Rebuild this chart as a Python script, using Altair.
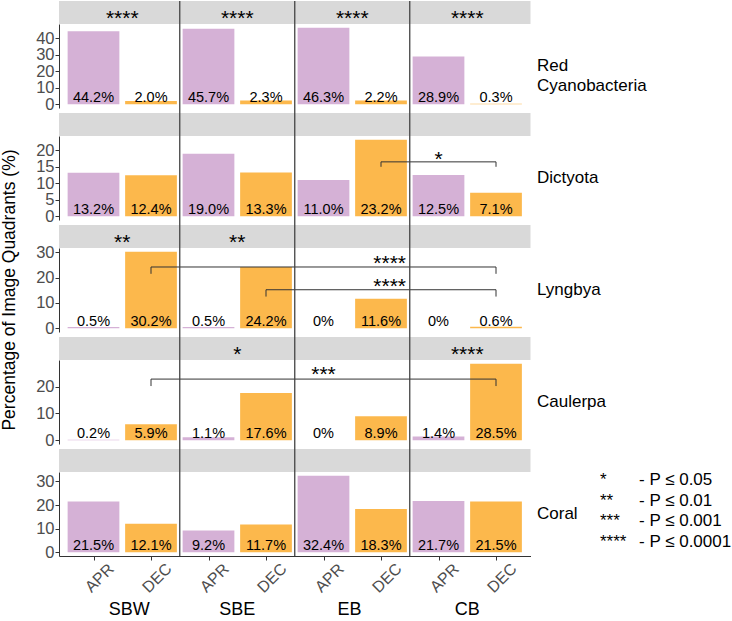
import altair as alt
import pandas as pd

FONT = "Liberation Sans"
PURPLE = "#D5B1D6"
ORANGE = "#FCB84C"
STRIP_GREY = "#D9D9D9"
LINE = "#333333"

sites = ["SBW", "SBE", "EB", "CB"]
months = ["APR", "DEC"]
taxa = ["Red Cyanobacteria", "Dictyota", "Lyngbya", "Caulerpa", "Coral"]
taxon_lines = [["Red", "Cyanobacteria"], ["Dictyota"], ["Lyngbya"], ["Caulerpa"], ["Coral"]]

# percentage of image quadrants, ordered SBW APR, SBW DEC, SBE APR, ..., CB DEC
red_cyano = [44.2, 2.0, 45.7, 2.3, 46.3, 2.2, 28.9, 0.3]
dictyota = [13.2, 12.4, 19.0, 13.3, 11.0, 23.2, 12.5, 7.1]
lyngbya = [0.5, 30.2, 0.5, 24.2, 0.0, 11.6, 0.0, 0.6]
caulerpa = [0.2, 5.9, 1.1, 17.6, 0.0, 8.9, 1.4, 28.5]
coral = [21.5, 12.1, 9.2, 11.7, 32.4, 18.3, 21.7, 21.5]
cover = [red_cyano, dictyota, lyngbya, caulerpa, coral]

y_ticks = [[0, 10, 20, 30, 40], [0, 5, 10, 15, 20], [0, 10, 20, 30], [0, 10, 20], [0, 10, 20, 30]]

# APR vs DEC significance at a site, shown in the strip above each taxon
strip_star_sites = [["SBW", "SBE", "EB", "CB"], [], ["SBW", "SBE"], ["SBE", "CB"], []]
strip_star_text = [["****", "****", "****", "****"], [], ["**", "**"], ["*", "****"], []]

# between-site comparisons (x slots: SBW APR = 1 ... CB DEC = 8)
bracket_taxon = ["Dictyota", "Lyngbya", "Lyngbya", "Caulerpa"]
bracket_left = [6, 2, 4, 2]
bracket_right = [8, 8, 8, 8]
bracket_top = [16.5, 24.2, 15.2, 22.8]
bracket_tip = [15.0, 21.5, 12.5, 20.2]
bracket_stars = ["*", "****", "****", "***"]
bracket_star_x = [7.0, 6.15, 6.15, 5.0]
bracket_star_dy = [4.5, 3.5, 3.0, 1.5]

legend_stars = ["*", "**", "***", "****"]
legend_text = ["- P \u2264 0.05", "- P \u2264 0.01", "- P \u2264 0.001", "- P \u2264 0.0001"]

site_label_x = [1.62, 3.5, 5.45, 7.5]

W, H, STRIP, GAP = 471.5, 84, 23, 5

slots = list(range(1, 2 * len(sites) + 1))
site_of_slot = [s for s in sites for _ in months]
month_of_slot = months * len(sites)
x_scale = alt.Scale(domain=[0.4, 8.6], nice=False, zero=False)
one = pd.DataFrame({"k": [0]})


def panel(r):
    vals = cover[r]
    last = r == len(taxa) - 1
    top = max(vals)
    y_scale = alt.Scale(domain=[-0.05 * top, 1.05 * top], nice=False, zero=False)
    y_axis = alt.Axis(values=y_ticks[r], title=None, labelOverlap=False)
    if last:
        x_axis = alt.Axis(values=slots, title=None, labelOverlap=False,
                          labelExpr=f"{months}[(datum.value - 1) % 2]")
    else:
        x_axis = None

    def X(f):
        return alt.X(f, type="quantitative", scale=x_scale, axis=x_axis)

    def Y(f):
        return alt.Y(f, type="quantitative", scale=y_scale, axis=y_axis)

    df = pd.DataFrame({"slot": slots, "site": site_of_slot, "month": month_of_slot,
                       "value": vals, "zero": [0] * len(slots)})

    bars = alt.Chart(df).transform_calculate(
        x0="datum.slot - 0.45", x1="datum.slot + 0.45"
    ).mark_bar().encode(
        x=X("x0"), x2="x1:Q", y=Y("value"), y2="zero:Q",
        color=alt.Color("month:N", scale=alt.Scale(domain=months, range=[PURPLE, ORANGE]),
                        legend=None),
    )

    labels = alt.Chart(df).transform_calculate(
        lab="datum.value == 0 ? '0%' : format(datum.value, '.1f') + '%'"
    ).mark_text(font=FONT, fontSize=14.5, baseline="alphabetic", dy=-2.5, color="black").encode(
        x=X("slot"), y=Y("zero"), text="lab:N"
    )

    strip = alt.Chart(one).mark_rect(color=STRIP_GREY).encode(
        x=alt.value(0), x2=alt.value(W), y=alt.value(-STRIP), y2=alt.value(0)
    )

    layers = [strip, bars, labels]

    # brackets
    segs = []
    stars = []
    for t, a, b, yt, yp, s, sx, sdy in zip(bracket_taxon, bracket_left, bracket_right,
                                           bracket_top, bracket_tip, bracket_stars,
                                           bracket_star_x, bracket_star_dy):
        if t != taxa[r]:
            continue
        segs.append({"xa": a, "xb": b, "ya": yt, "yb": yt})
        segs.append({"xa": a, "xb": a, "ya": yt, "yb": yp})
        segs.append({"xa": b, "xb": b, "ya": yt, "yb": yp})
        stars.append({"x": sx, "y": yt, "s": s, "dy": sdy})
    if segs:
        layers.append(alt.Chart(pd.DataFrame(segs)).mark_rule(color=LINE, strokeWidth=1).encode(
            x=X("xa"), x2="xb:Q", y=Y("ya"), y2="yb:Q"))
        for st in stars:
            layers.append(alt.Chart(pd.DataFrame([st])).mark_text(
                font=FONT, fontSize=21, baseline="alphabetic", dy=st["dy"], color="black"
            ).encode(x=X("x"), y=Y("y"), text="s:N"))

    # site separators
    sep = pd.DataFrame({"x": [2 * i + 0.5 for i in range(1, len(sites))]})
    layers.append(alt.Chart(sep).mark_rule(color="#444444", strokeWidth=1.3).encode(
        x=X("x"), y=alt.value(-STRIP if r == 0 else -(STRIP + GAP)), y2=alt.value(H)))

    # strip stars
    if strip_star_sites[r]:
        sdf = pd.DataFrame({"x": [sites.index(s) * 2 + 1.5 for s in strip_star_sites[r]],
                            "s": strip_star_text[r]})
        layers.append(alt.Chart(sdf).mark_text(
            font=FONT, fontSize=21, baseline="alphabetic", color="black"
        ).encode(x=X("x"), y=alt.value(0.5), text="s:N"))

    # taxon name on the right
    for i, line in enumerate(taxon_lines[r]):
        layers.append(alt.Chart(one).mark_text(
            font=FONT, fontSize=17, align="left", baseline="middle", color="black"
        ).encode(x=alt.value(W + 6.5), y=alt.value(H / 2 + 20 * i), text=alt.value(line)))

    if r == 2:
        layers.append(alt.Chart(one).mark_text(
            font=FONT, fontSize=17.5, angle=270, align="center", baseline="middle", color="black"
        ).encode(x=alt.value(-49.5), y=alt.value(H / 2),
                 text=alt.value("Percentage of Image Quadrants (%)")))

    if last:
        sl = pd.DataFrame({"x": site_label_x, "s": sites})
        layers.append(alt.Chart(sl).mark_text(
            font=FONT, fontSize=18, baseline="middle", color="black"
        ).encode(x=X("x"), y=alt.value(H + 54), text="s:N"))
        for i, (s, t) in enumerate(zip(legend_stars, legend_text)):
            yy = 13 + 20.7 * i
            layers.append(alt.Chart(one).mark_text(
                font=FONT, fontSize=17, align="left", baseline="alphabetic", color="black"
            ).encode(x=alt.value(541), y=alt.value(yy), text=alt.value(s)))
            layers.append(alt.Chart(one).mark_text(
                font=FONT, fontSize=17, align="left", baseline="alphabetic", color="black"
            ).encode(x=alt.value(580), y=alt.value(yy), text=alt.value(t)))

    return alt.layer(*layers).properties(width=W, height=H)


chart = alt.vconcat(
    *[panel(r) for r in range(len(taxa))], spacing=STRIP + GAP, bounds="flush"
).properties(
    padding={"left": 0, "top": 0, "right": 0, "bottom": 0}
).configure_view(stroke=None).configure_axis(
    grid=False, domainColor=LINE, domainWidth=1, tickColor=LINE, tickSize=4,
    labelColor="#4D4D4D", labelFont=FONT, labelFontSize=16.5, labelPadding=1,
).configure_axisX(
    labelFontSize=16, labelAngle=-45, labelAlign="center", labelBaseline="top", labelPadding=12,
)

chart.save("out.html", embed_options={"renderer": "svg", "actions": False})
